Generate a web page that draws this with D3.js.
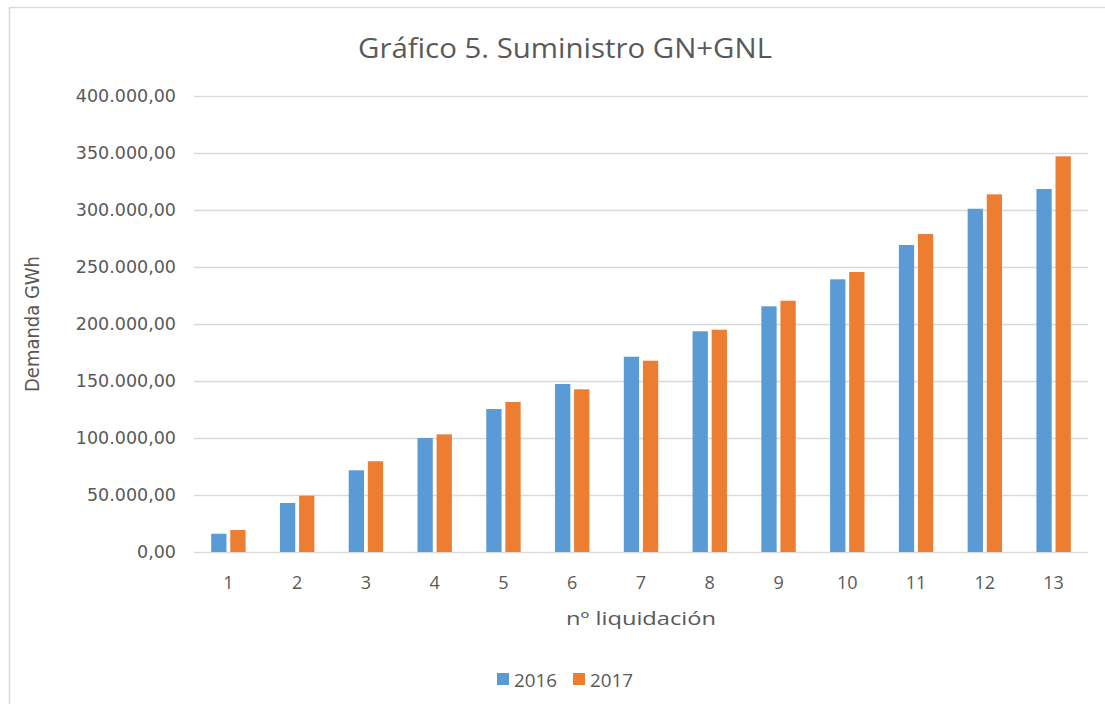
<!DOCTYPE html>
<html><head><meta charset="utf-8">
<script src="https://cdn.jsdelivr.net/npm/d3@7"></script>
<style>
html,body{margin:0;padding:0;background:#fff;}
svg{display:block;}
</style></head>
<body>
<svg id="chart" width="1105" height="704"></svg>
<script>
const categories = ["1","2","3","4","5","6","7","8","9","10","11","12","13"];
const seriesNames = ["2016","2017"];
const values2016 = [16000, 43000, 71700, 100000, 125400, 147400, 171300, 193600, 215500, 239200, 269300, 301100, 318400];
const values2017 = [19300, 49400, 79600, 103200, 131600, 142700, 167800, 195000, 220400, 245600, 278900, 313700, 347100];
const yTicks = [0, 50000, 100000, 150000, 200000, 250000, 300000, 350000, 400000];
const colors = ["#5B9BD5", "#ED7D31"];
const titleText = "Gráfico 5. Suministro GN+GNL";
const xTitle = "nº liquidación";
const yTitle = "Demanda GWh";

const svg = d3.select("#chart");
const m = {left:194, right:1088, top:96, bottom:552};
const txt = "#595959";
const narrow = "'Open Sans',sans-serif";
const wide = "'DejaVu Sans',sans-serif";

// outer border
svg.append("rect").attr("x",9.5).attr("y",7.5).attr("width",1110).attr("height",720)
  .attr("fill","#fff").attr("stroke","#D9D9D9").attr("stroke-width",1.5);

const x0 = d3.scaleBand().domain(categories).range([m.left, m.right]).paddingInner(0.5).paddingOuter(0.25);
const x1 = d3.scaleBand().domain(seriesNames).range([0, x0.bandwidth()]).paddingInner(0.2);
const y = d3.scaleLinear().domain([0, 400000]).range([m.bottom, m.top]);

const fmt = v => d3.format(",.2f")(v).replace(/,/g,"#").replace(/\./g,",").replace(/#/g,".");

// gridlines
svg.append("g").selectAll("line").data(yTicks).join("line")
  .attr("x1", m.left).attr("x2", m.right)
  .attr("y1", d => Math.round(y(d))+0.5).attr("y2", d => Math.round(y(d))+0.5)
  .attr("stroke", "#D9D9D9").attr("stroke-width", 1.3);

// y labels
svg.append("g").selectAll("text").data(yTicks).join("text")
  .attr("x", 176).attr("y", d => y(d)).attr("dy","0.36em")
  .attr("text-anchor","end").attr("fill",txt)
  .style("font-family",wide).style("font-size","17.5px")
  .text(d => fmt(d));

// bars
const data = categories.map((c,i) => ({cat:c, vals:[values2016[i], values2017[i]]}));
const g = svg.append("g").selectAll("g").data(data).join("g")
  .attr("transform", d => `translate(${x0(d.cat)},0)`);
g.selectAll("rect").data(d => d.vals.map((v,j)=>({s:seriesNames[j], v, j}))).join("rect")
  .attr("x", d => x1(d.s)).attr("width", x1.bandwidth())
  .attr("y", d => y(d.v)).attr("height", d => y(0)-y(d.v))
  .attr("fill", d => colors[d.j]);

// x labels
svg.append("g").selectAll("text").data(categories).join("text")
  .attr("x", d => x0(d)+x0.bandwidth()/2).attr("y", 583).attr("dy","0.36em")
  .attr("text-anchor","middle").attr("fill",txt)
  .style("font-family",narrow).style("font-size","18px")
  .text(d => d);

// title
svg.append("text").attr("x", 565).attr("y", 48).attr("dy","0.36em")
  .attr("text-anchor","middle").attr("fill",txt)
  .style("font-family",narrow).style("font-size","27px")
  .attr("textLength", 414).attr("lengthAdjust","spacingAndGlyphs")
  .text(titleText);

// x title
svg.append("text").attr("x", 641).attr("y", 618).attr("dy","0.36em")
  .attr("text-anchor","middle").attr("fill",txt)
  .style("font-family",narrow).style("font-size","19px")
  .attr("textLength", 150).attr("lengthAdjust","spacingAndGlyphs")
  .text(xTitle);

// y title
svg.append("text").attr("transform","translate(32,324) rotate(-90)").attr("dy","0.36em")
  .attr("text-anchor","middle").attr("fill",txt)
  .style("font-family",wide).style("font-size","19px")
  .attr("textLength", 136).attr("lengthAdjust","spacingAndGlyphs")
  .text(yTitle);

// legend
const leg = svg.append("g");
const legX = [497, 573];
seriesNames.forEach((s,i) => {
  leg.append("rect").attr("x", legX[i]).attr("y", 673).attr("width", 12).attr("height", 12).attr("fill", colors[i]);
  leg.append("text").attr("x", legX[i]+17).attr("y", 680).attr("dy","0.36em")
    .attr("fill",txt).style("font-family",narrow).style("font-size","19px")
    .attr("textLength", 43).attr("lengthAdjust","spacingAndGlyphs")
    .text(s);
});
</script>
</body></html>
